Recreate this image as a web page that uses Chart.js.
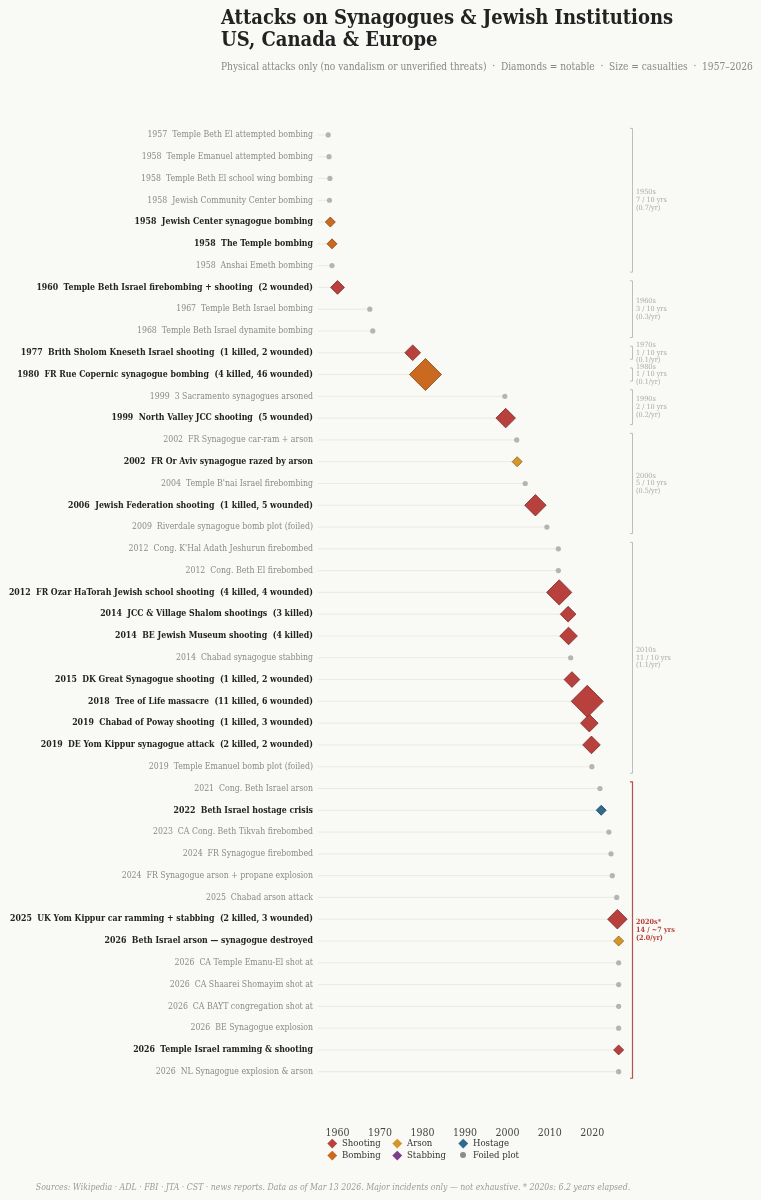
<!DOCTYPE html>
<html>
<head>
<meta charset="utf-8">
<script src="https://cdn.jsdelivr.net/npm/chart.js@4.4.1/dist/chart.umd.min.js"></script>
<style>
  body { margin: 0; background: #f9f9f5; }
  #wrap { position: relative; width: 761px; height: 1200px; font-family: 'DejaVu Serif Condensed', 'DejaVu Serif', serif; }
  #chart { position: absolute; left: 0; top: 0; }
  .title { position: absolute; left: 221px; top: 6px; font-size: 20px; font-weight: bold; color: #222; line-height: 22px; white-space: nowrap; }
  .subtitle { position: absolute; left: 221px; top: 61px; font-size: 10.1px; color: #888; white-space: pre; }
  .legend { position: absolute; left: 327px; top: 1137px; font-size: 9.5px; color: #333; }
  .legend .item { position: absolute; white-space: nowrap; height: 12px; line-height: 12px; }
  .legend .mk { position: absolute; left: 1.5px; top: 2.5px; width: 6.5px; height: 6.5px; transform: rotate(45deg); }
  .legend .dot { position: absolute; left: 2px; top: 3px; width: 6px; height: 6px; border-radius: 50%; }
  .legend .txt { position: absolute; left: 15px; top: 0; }
  .footer { position: absolute; left: 0; width: 666px; top: 1182px; text-align: center; font-size: 8.7px; font-style: italic; color: #9a9a9a; white-space: nowrap; }
</style>
</head>
<body>
<div id="wrap">
  <canvas id="chart" width="761" height="1200"></canvas>
  <div class="title">Attacks on Synagogues &amp; Jewish Institutions<br>US, Canada &amp; Europe</div>
  <div class="subtitle">Physical attacks only (no vandalism or unverified threats)  ·  Diamonds = notable  ·  Size = casualties  ·  1957–2026</div>
  <div class="legend" id="legend"></div>
  <div class="footer">Sources: Wikipedia · ADL · FBI · JTA · CST · news reports. Data as of Mar 13 2026. Major incidents only — not exhaustive. * 2020s: 6.2 years elapsed.</div>
</div>
<script>
// Event data (one entry per row, top to bottom)
const labels = [
  "1957  Temple Beth El attempted bombing",
  "1958  Temple Emanuel attempted bombing",
  "1958  Temple Beth El school wing bombing",
  "1958  Jewish Community Center bombing",
  "1958  Jewish Center synagogue bombing",
  "1958  The Temple bombing",
  "1958  Anshai Emeth bombing",
  "1960  Temple Beth Israel firebombing + shooting  (2 wounded)",
  "1967  Temple Beth Israel bombing",
  "1968  Temple Beth Israel dynamite bombing",
  "1977  Brith Sholom Kneseth Israel shooting  (1 killed, 2 wounded)",
  "1980  FR Rue Copernic synagogue bombing  (4 killed, 46 wounded)",
  "1999  3 Sacramento synagogues arsoned",
  "1999  North Valley JCC shooting  (5 wounded)",
  "2002  FR Synagogue car-ram + arson",
  "2002  FR Or Aviv synagogue razed by arson",
  "2004  Temple B'nai Israel firebombing",
  "2006  Jewish Federation shooting  (1 killed, 5 wounded)",
  "2009  Riverdale synagogue bomb plot (foiled)",
  "2012  Cong. K'Hal Adath Jeshurun firebombed",
  "2012  Cong. Beth El firebombed",
  "2012  FR Ozar HaTorah Jewish school shooting  (4 killed, 4 wounded)",
  "2014  JCC & Village Shalom shootings  (3 killed)",
  "2014  BE Jewish Museum shooting  (4 killed)",
  "2014  Chabad synagogue stabbing",
  "2015  DK Great Synagogue shooting  (1 killed, 2 wounded)",
  "2018  Tree of Life massacre  (11 killed, 6 wounded)",
  "2019  Chabad of Poway shooting  (1 killed, 3 wounded)",
  "2019  DE Yom Kippur synagogue attack  (2 killed, 2 wounded)",
  "2019  Temple Emanuel bomb plot (foiled)",
  "2021  Cong. Beth Israel arson",
  "2022  Beth Israel hostage crisis",
  "2023  CA Cong. Beth Tikvah firebombed",
  "2024  FR Synagogue firebombed",
  "2024  FR Synagogue arson + propane explosion",
  "2025  Chabad arson attack",
  "2025  UK Yom Kippur car ramming + stabbing  (2 killed, 3 wounded)",
  "2026  Beth Israel arson — synagogue destroyed",
  "2026  CA Temple Emanu-El shot at",
  "2026  CA Shaarei Shomayim shot at",
  "2026  CA BAYT congregation shot at",
  "2026  BE Synagogue explosion",
  "2026  Temple Israel ramming & shooting",
  "2026  NL Synagogue explosion & arson"
];

// decimal year of each event
const dates = [
  1957.8, 1958.0, 1958.2, 1958.1, 1958.3, 1958.7, 1958.7,
  1960.0, 1967.6, 1968.3,
  1977.7, 1980.7,
  1999.4, 1999.6,
  2002.2, 2002.3, 2004.2, 2006.6, 2009.3,
  2012.0, 2012.0, 2012.2, 2014.3, 2014.4, 2014.9, 2015.2, 2018.8, 2019.3, 2019.8, 2019.9,
  2021.8, 2022.1, 2023.9, 2024.4, 2024.7, 2025.75, 2025.9, 2026.2, 2026.2, 2026.2, 2026.2, 2026.2, 2026.2, 2026.2
];

const types = [
  "bombing", "bombing", "bombing", "bombing", "bombing", "bombing", "bombing",
  "shooting", "bombing", "bombing",
  "shooting", "bombing",
  "arson", "shooting",
  "arson", "arson", "arson", "shooting", "foiled",
  "arson", "arson", "shooting", "shooting", "shooting", "stabbing", "shooting", "shooting", "shooting", "shooting", "foiled",
  "arson", "hostage", "arson", "arson", "arson", "arson", "shooting", "arson", "shooting", "shooting", "shooting", "bombing", "shooting", "bombing"
];

const notable = [
  0, 0, 0, 0, 1, 1, 0,
  1, 0, 0,
  1, 1,
  0, 1,
  0, 1, 0, 1, 0,
  0, 0, 1, 1, 1, 0, 1, 1, 1, 1, 0,
  0, 1, 0, 0, 0, 0, 1, 1, 0, 0, 0, 0, 1, 0
];

// killed + wounded
const casualties = [
  0, 0, 0, 0, 0, 0, 0,
  2, 0, 0,
  3, 50,
  0, 5,
  0, 0, 0, 6, 0,
  0, 0, 8, 3, 4, 0, 3, 17, 4, 4, 0,
  0, 0, 0, 0, 0, 0, 5, 0, 0, 0, 0, 0, 0, 0
];

const yearTicks = [1960, 1970, 1980, 1990, 2000, 2010, 2020];

const typeColors = {
  shooting: "#b8413e",
  bombing: "#c96a20",
  arson: "#d4952a",
  stabbing: "#7b3f8c",
  hostage: "#2f6a8f",
  foiled: "#8c8c8c"
};
const typeEdges = {
  shooting: "#7a2826",
  bombing: "#86450f",
  arson: "#8f6116",
  stabbing: "#4f2659",
  hostage: "#1d445d",
  foiled: "#5e5e5e"
};

const X_MIN = 1955.4;
const X_MAX = 2028.4;
const FONT = "'DejaVu Serif Condensed', 'DejaVu Serif', serif";

// Legend (built from the type table)
const legendOrder = [
  ["shooting", "Shooting", 0, 0], ["bombing", "Bombing", 0, 1],
  ["arson", "Arson", 1, 0], ["stabbing", "Stabbing", 1, 1],
  ["hostage", "Hostage", 2, 0], ["foiled", "Foiled plot", 2, 1]
];
const colX = [0, 65, 131];
const legendEl = document.getElementById("legend");
legendOrder.forEach(([key, name, col, row]) => {
  const item = document.createElement("div");
  item.className = "item";
  item.style.left = colX[col] + "px";
  item.style.top = row * 12 + "px";
  const mk = key === "foiled" ? "dot" : "mk";
  item.innerHTML = `<div class="${mk}" style="background:${typeColors[key]}"></div><div class="txt">${name}</div>`;
  legendEl.appendChild(item);
});

// Decade groups for the brackets on the right
const groups = [];
dates.forEach((d, i) => {
  const dec = Math.floor(d / 10) * 10;
  const last = groups[groups.length - 1];
  if (last && last.decade === dec) last.last = i;
  else groups.push({ decade: dec, first: i, last: i });
});

const decadeBrackets = {
  id: "decadeBrackets",
  afterDraw(chart) {
    const { ctx, chartArea, scales } = chart;
    const y = scales.y;
    const bx = chartArea.right + 4.5;
    ctx.save();
    groups.forEach((g) => {
      const current = g.decade === 2020;
      const n = g.last - g.first + 1;
      const span = current ? 7 : 10;
      const color = current ? "#b8504c" : "#bdbdbd";
      const top = y.getPixelForValue(g.first - 0.3);
      const bot = y.getPixelForValue(g.last + 0.3);
      ctx.strokeStyle = color;
      ctx.lineWidth = current ? 1.2 : 1;
      ctx.beginPath();
      ctx.moveTo(bx - 2.5, top);
      ctx.lineTo(bx, top);
      ctx.lineTo(bx, bot);
      ctx.lineTo(bx - 2.5, bot);
      ctx.stroke();

      const lines = [
        g.decade + "s" + (current ? "*" : ""),
        n + " / " + (current ? "~7" : "10") + " yrs",
        "(" + (n / span).toFixed(1) + "/yr)"
      ];
      const mid = (top + bot) / 2;
      ctx.fillStyle = current ? "#b5403c" : "#a8a8a8";
      ctx.font = (current ? "bold " : "") + "7.2px " + FONT;
      ctx.textAlign = "left";
      ctx.textBaseline = "middle";
      lines.forEach((t, k) => ctx.fillText(t, bx + 3.5, mid + (k - 1) * 7.8));
    });
    ctx.restore();
  }
};

// Stems: a line from the left edge to each event
const stemData = [];
dates.forEach((d, i) => {
  stemData.push({ x: X_MIN, y: i }, { x: d, y: i }, { x: null, y: null });
});

const pointData = dates.map((d, i) => ({ x: d, y: i }));

function markerRadius(i) {
  if (!notable[i]) return 2.6;
  return Math.min(16, 5 + 0.95 * casualties[i]);
}

new Chart(document.getElementById("chart"), {
  type: "scatter",
  data: {
    datasets: [
      {
        type: "line",
        data: stemData,
        borderColor: "#e6e6e1",
        borderWidth: 0.8,
        pointRadius: 0,
        spanGaps: false,
        order: 2
      },
      {
        data: pointData,
        pointStyle: (c) => (notable[c.dataIndex] ? "rectRot" : "circle"),
        pointRadius: (c) => markerRadius(c.dataIndex),
        backgroundColor: (c) => (notable[c.dataIndex] ? typeColors[types[c.dataIndex]] : "#b4b4b0"),
        borderColor: (c) => (notable[c.dataIndex] ? typeEdges[types[c.dataIndex]] : "#b4b4b0"),
        borderWidth: (c) => (notable[c.dataIndex] ? 0.8 : 0),
        order: 1
      }
    ]
  },
  options: {
    responsive: false,
    animation: false,
    layout: { padding: { top: 124, right: 133, bottom: 56, left: 0 } },
    plugins: {
      legend: { display: false },
      tooltip: { enabled: false }
    },
    scales: {
      x: {
        type: "linear",
        min: X_MIN,
        max: X_MAX,
        grid: { display: false, drawTicks: false },
        border: { display: false },
        afterBuildTicks: (scale) => {
          scale.ticks = yearTicks.map((v) => ({ value: v }));
        },
        afterFit: (scale) => {
          scale.height = 20;
        },
        ticks: {
          padding: 3,
          color: "#444",
          font: { family: FONT, size: 10.5 },
          callback: (v) => String(v)
        }
      },
      y: {
        type: "linear",
        reverse: true,
        min: -0.5,
        max: 45.4,
        grid: { display: false, drawTicks: false },
        border: { display: false },
        afterBuildTicks: (scale) => {
          scale.ticks = labels.map((_, i) => ({ value: i }));
        },
        afterFit: (scale) => {
          scale.width = 318;
        },
        ticks: {
          autoSkip: false,
          padding: 5,
          callback: (v) => labels[v],
          color: (c) => (notable[c.index] ? "#222" : "#8a8a8a"),
          font: (c) => ({ family: FONT, size: 8.7, weight: notable[c.index] ? "bold" : "normal" })
        }
      }
    }
  },
  plugins: [decadeBrackets]
});
</script>
</body>
</html>
